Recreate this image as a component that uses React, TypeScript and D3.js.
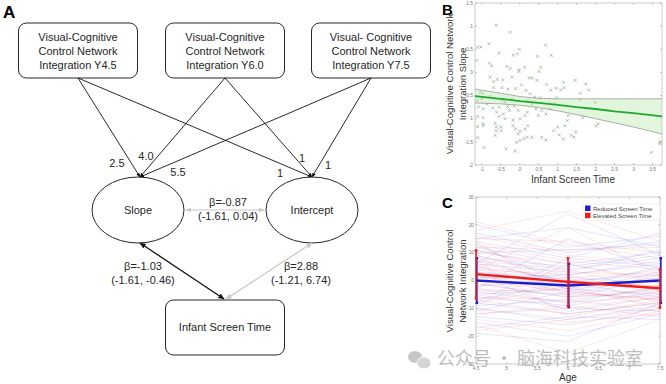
import * as d3 from 'd3';

// ---------- Panel A: path model ----------
const indicatorLabels = [
  ['Visual-Cognitive', 'Control Network', 'Integration Y4.5'],
  ['Visual-Cognitive', 'Control Network', 'Integration Y6.0'],
  ['Visual- Cognitive', 'Control Network', 'Integration Y7.5'],
];
const slopeLoadings = ['2.5', '4.0', '5.5'];
const interceptLoadings = ['1', '1', '1'];
const latentLabels = ['Slope', 'Intercept'];
const covarianceLabel = ['β=-0.87', '(-1.61, 0.04)'];
const screenSlopeLabel = ['β=-1.03', '(-1.61, -0.46)'];
const screenInterceptLabel = ['β=2.88', '(-1.21, 6.74)'];

// ---------- Panel B: scatter ----------
const screenTime = [
  -0.62, -0.25, -1.11, -1.02, -0.81, -0.01, 0.68, -0.55, -0.17, -0.06, 0.47, 0.83, -1.13, -0.8, -0.74, -0.34,
  -0.25, -0.02, -0.02, 0.13, 0.55, 0.51, -0.78, -0.59, -0.45, -0.69, -0.21, 0.05, 0.32, 0.45, 0.71, 0.82,
  0.96, 1.15, 1.46, 1.74, 1.6, 1.82, 1.17, -1.04, -0.97, -0.31, -0.11, 0.17, 0.27, 0.39, 0.54, 0.97,
  1.08, -1.09, -0.96, -0.87, -0.71, -0.54, -0.61, -0.54, -0.43, -0.39, -0.27, -0.15, -0.04, 0.01, 0.14, 0.2,
  0.32, 0.43, 0.49, 0.58, 0.69, 1.99, 1.59, -0.78, -0.47, -0.39, -0.21, -1.11, -0.97, -0.97, -0.96, -0.65,
  -0.62, -0.62, -0.5, -0.49, -1.11, -1.11, -0.94, -0.65, -0.18, -0.18, -0.11, 0.01, -0.04, 0.14, 0.21, 0.2,
  -0.08, 0.01, 0.11, 0.32, 0.58, 0.69, 0.89, 1.0, 1.04, 1.15, 1.19, 1.25, 1.28, 1.36, 1.43, 1.48,
  1.66, 2.01, 2.07, -0.36, -0.12, 3.47, 3.69, 3.7, -1.13, -1.0, -0.32, 0.2, 0.8, 0.93, 0.25, -0.47, -0.69,
];
const integrationSlope = [
  1.02, 0.87, 0.55, 0.55, 0.62, 0.5, 0.59, 0.42, 0.37, 0.4, 0.35, 0.37, 0.26, 0.2, 0.14, 0.13,
  0.08, 0.06, 0.02, 0.11, 0.11, 0.02, -0.1, -0.15, -0.16, -0.2, -0.1, -0.27, -0.12, -0.17, -0.26, -0.38,
  -0.34, -0.21, -0.17, -0.25, -0.45, -0.38, -0.33, -0.43, -0.46, -0.36, -0.35, -0.39, -0.46, -0.53, -0.55, -0.55,
  -0.38, -0.74, -0.79, -0.68, -0.77, -0.75, -0.86, -0.95, -0.9, -1.0, -0.82, -0.73, -0.82, -1.0, -0.93, -0.86,
  -0.68, -0.79, -0.93, -0.82, -0.9, -0.65, -0.59, -0.52, -0.61, -0.64, -0.57, -0.95, -0.98, -1.11, -1.15, -1.1,
  -1.18, -1.26, -1.18, -1.26, -1.17, -1.41, -1.62, -1.36, -1.03, -1.15, -1.22, -1.27, -1.33, -1.22, -1.15, -1.4,
  -1.51, -1.47, -1.43, -1.4, -1.4, -1.46, -1.26, -1.18, -1.35, -1.44, -1.15, -1.04, -0.93, -1.36, -1.4, -1.29,
  -0.98, -1.16, -1.11, -1.65, -1.7, -1.73, -1.54, -1.5, -0.61, -0.57, -0.74, -0.61, -0.79, -0.68, -0.12, -0.33, -0.33,
];
const fitX = [-1.18, -0.5, 0, 0.5, 1, 1.5, 2, 2.5, 3, 3.75];
const fitLine = [-0.51, -0.57, -0.62, -0.66, -0.7, -0.75, -0.79, -0.84, -0.88, -0.95];
const fitUpper = [-0.36, -0.45, -0.52, -0.56, -0.57, -0.57, -0.57, -0.57, -0.57, -0.57];
const fitLower = [-0.66, -0.68, -0.71, -0.76, -0.83, -0.91, -1.0, -1.09, -1.18, -1.33];
const bXTicks = [-1, -0.5, 0, 0.5, 1, 1.5, 2, 2.5, 3, 3.5];
const bYTicks = [-2, -1.5, -1, -0.5, 0, 0.5, 1, 1.5];

// ---------- Panel C: trajectories ----------
const ages = [4.5, 6, 7.5];
const reducedTrajectories = [
  [20, 12, 16], [17, 10, 14], [15, 19, 12], [14, 8, 17], [12, 6, 10], [11, 4, 8], [10, 11, 13], [9, 2, 6],
  [8, 5, 9], [7, -1, 4], [6, 3, 11], [5, 0, 2], [4, -3, 5], [3, 1, -1], [2, -4, 3], [1, 2, 7],
  [0, -2, 0], [-1, -6, 1], [-2, 0, -3], [-3, -5, 2], [-4, -8, -2], [-5, -3, -5], [-6, -9, -4], [-7, -1, -6],
  [-8, -12, -8], [-9, -7, -3], [-10, -14, -9], [-11, -4, -7], [-12, -10, -11], [-13, -16, -10], [-15, -20, -12],
  [-17, -13, -14], [-19, -22, -8], [6, 24, 9], [-3, 15, 4], [13, -2, 0], [-8, 8, 5], [2, -11, -6],
];
const elevatedTrajectories = [
  [21, 13, 8], [18, 25, 14], [16, 9, 6], [15, 14, 10], [13, 7, 4], [12, 11, 12], [11, 3, 2], [10, 6, -1],
  [9, 1, 3], [8, -2, 0], [7, 4, -4], [6, 0, -2], [5, -3, 1], [4, 2, -5], [3, -1, -3], [2, -5, -6],
  [1, 0, -2], [0, -4, -7], [-1, -6, -4], [-2, 1, -8], [-3, -8, -5], [-4, -3, -9], [-5, -10, -6], [-6, -7, -11],
  [-7, -12, -8], [-8, -2, -10], [-10, -15, -12], [-12, -9, -13], [-14, -18, -11], [-16, -26, -14], [-18, -14, -10],
  [4, 19, 2], [14, -6, -3], [-9, 6, 0], [7, -13, -7],
];
const reducedMean = [0, -1.8, 0];
const reducedLow = [-8, -9.5, -8];
const reducedHigh = [8, 6, 8];
const elevatedMean = [2.3, -0.5, -2.8];
const elevatedLow = [-6.5, -9.2, -9.7];
const elevatedHigh = [10.8, 8, 4];
const cXTicks = [4.5, 5, 5.5, 6, 6.5, 7, 7.5];
const cYTicks = [-30, -20, -10, 0, 10, 20, 30];
const legendItems = ['Reduced Screen Time', 'Elevated Screen Time'];

const FONT = '"Liberation Sans", Arial, sans-serif';
const BLUE = '#1f1fc8';
const RED = '#ee1c1c';
const INK = '#262626';

// diagram layout (not data)
const layout = {
  boxW: 119,
  boxH: 55,
  boxTop: 23,
  boxCx: [78, 225, 371],
  slope: { cx: 138, cy: 210 },
  intercept: { cx: 312, cy: 210 },
  rx: 46,
  ry: 33,
  screen: { cx: 225, top: 300 },
};

const loadingPos = {
  slope: [[117, 167], [146, 160], [178, 176]],
  intercept: [[280, 177], [302, 162], [328, 169]],
};

function PanelA() {
  const { boxW, boxH, boxTop, boxCx, slope, intercept, rx, ry, screen } = layout;
  const slopeTip: [number, number] = [slope.cx + 2, slope.cy - ry];
  const interceptTip: [number, number] = [intercept.cx, intercept.cy - ry];
  const line = d3.line();
  return (
    <g fontFamily={FONT}>
      <text x={3} y={18} fontSize={17} fontWeight="bold">A</text>
      {indicatorLabels.map((lines, i) => (
        <g key={i}>
          <rect x={boxCx[i] - boxW / 2} y={boxTop} width={boxW} height={boxH} rx={8} fill="white" stroke={INK} strokeWidth={1} />
          {lines.map((t, j) => (
            <text key={j} x={boxCx[i]} y={boxTop + 18 + j * 14} fontSize={11} textAnchor="middle" fill={INK}>{t}</text>
          ))}
          <path d={line([[boxCx[i], boxTop + boxH], slopeTip]) || ''} stroke="#111" strokeWidth={0.9} fill="none" markerEnd="url(#arrBlack)" />
          <path d={line([[boxCx[i], boxTop + boxH], interceptTip]) || ''} stroke="#111" strokeWidth={0.9} fill="none" markerEnd="url(#arrBlack)" />
        </g>
      ))}
      {slopeLoadings.map((t, i) => (
        <text key={'s' + i} x={loadingPos.slope[i][0]} y={loadingPos.slope[i][1]} fontSize={11} textAnchor="middle" fill={INK}>{t}</text>
      ))}
      {interceptLoadings.map((t, i) => (
        <text key={'i' + i} x={loadingPos.intercept[i][0]} y={loadingPos.intercept[i][1]} fontSize={11} textAnchor="middle" fill={INK}>{t}</text>
      ))}
      {[slope, intercept].map((c, i) => (
        <g key={i}>
          <ellipse cx={c.cx} cy={c.cy} rx={rx} ry={ry} fill="white" stroke={INK} strokeWidth={1} />
          <text x={c.cx} y={c.cy + 4} fontSize={11} textAnchor="middle" fill={INK}>{latentLabels[i]}</text>
        </g>
      ))}
      {/* covariance slope <-> intercept */}
      <path d={line([[slope.cx + rx + 2, slope.cy], [intercept.cx - rx - 2, intercept.cy]]) || ''} stroke="#c8c8c8" strokeWidth={1.2} markerStart="url(#arrGreyS)" markerEnd="url(#arrGrey)" />
      <text x={228} y={206} fontSize={11} textAnchor="middle" fill={INK}>{covarianceLabel[0]}</text>
      <text x={228} y={220} fontSize={11} textAnchor="middle" fill={INK}>{covarianceLabel[1]}</text>
      {/* screen time box */}
      <rect x={screen.cx - boxW / 2} y={screen.top} width={boxW} height={boxH} rx={8} fill="white" stroke={INK} strokeWidth={1} />
      <text x={screen.cx} y={screen.top + 31} fontSize={11} textAnchor="middle" fill={INK}>Infant Screen Time</text>
      <path d={line([[slope.cx + 2, slope.cy + ry], [screen.cx - 1, screen.top - 1]]) || ''} stroke="#111" strokeWidth={1.3} markerStart="url(#arrBlackS)" markerEnd="url(#arrBlack)" />
      <path d={line([[intercept.cx, intercept.cy + ry], [screen.cx + 1, screen.top - 1]]) || ''} stroke="#c8c8c8" strokeWidth={1.3} markerStart="url(#arrGreyS)" markerEnd="url(#arrGrey)" />
      <text x={143} y={270} fontSize={11} textAnchor="middle" fill={INK}>{screenSlopeLabel[0]}</text>
      <text x={143} y={284} fontSize={11} textAnchor="middle" fill={INK}>{screenSlopeLabel[1]}</text>
      <text x={301} y={270} fontSize={11} textAnchor="middle" fill={INK}>{screenInterceptLabel[0]}</text>
      <text x={301} y={284} fontSize={11} textAnchor="middle" fill={INK}>{screenInterceptLabel[1]}</text>
    </g>
  );
}

function PanelB() {
  const x = d3.scaleLinear().domain([-1.18, 3.75]).range([475, 662]);
  const y = d3.scaleLinear().domain([-2, 1.5]).range([165, 3]);
  const band = d3.area<number>().x((_, i) => x(fitX[i])).y0((_, i) => y(fitLower[i])).y1((_, i) => y(fitUpper[i]));
  const ln = d3.line<number>().x((_, i) => x(fitX[i]));
  const [x0, x1] = x.range();
  const [y0, y1] = y.range();
  return (
    <g fontFamily={FONT}>
      <text x={442} y={15} fontSize={15} fontWeight="bold">B</text>
      <rect x={x0} y={y1} width={x1 - x0} height={y0 - y1} fill="white" stroke="#bdbdbd" strokeWidth={0.8} />
      {bXTicks.map(t => (
        <g key={t}>
          <line x1={x(t)} x2={x(t)} y1={y0} y2={y0 - 2} stroke="#999" strokeWidth={0.5} />
          <line x1={x(t)} x2={x(t)} y1={y1} y2={y1 + 2} stroke="#999" strokeWidth={0.5} />
          <text x={x(t)} y={y0 + 6} fontSize={4.8} textAnchor="middle" fill="#777">{t}</text>
        </g>
      ))}
      {bYTicks.map(t => (
        <g key={t}>
          <line x1={x0} x2={x0 + 2} y1={y(t)} y2={y(t)} stroke="#999" strokeWidth={0.5} />
          <line x1={x1} x2={x1 - 2} y1={y(t)} y2={y(t)} stroke="#999" strokeWidth={0.5} />
          <text x={x0 - 2} y={y(t) + 1.7} fontSize={4.8} textAnchor="end" fill="#777">{t}</text>
        </g>
      ))}
      {screenTime.map((v, i) => {
        const cx = x(v);
        const cy = y(integrationSlope[i]);
        const s = 1.5;
        return (
          <path key={i} d={`M${cx - s},${cy - s}L${cx + s},${cy + s}M${cx - s},${cy + s}L${cx + s},${cy - s}`} stroke="#7f9f7f" strokeWidth={0.6} fill="none" />
        );
      })}
      <path d={band(fitX) || ''} fill="#bfe8b4" fillOpacity={0.45} stroke="none" />
      <path d={ln.y((_, i) => y(fitUpper[i]))(fitX) || ''} stroke="#9a9a9a" strokeWidth={0.8} fill="none" />
      <path d={ln.y((_, i) => y(fitLower[i]))(fitX) || ''} stroke="#9a9a9a" strokeWidth={0.8} fill="none" />
      <path d={ln.y((_, i) => y(fitLine[i]))(fitX) || ''} stroke="#1fa82c" strokeWidth={1.8} fill="none" />
      <text x={573} y={183} fontSize={10} textAnchor="middle" fill="#333">Infant Screen Time</text>
      <text transform="translate(453,84) rotate(-90)" fontSize={9.6} textAnchor="middle" fill="#333">Visual-Cognitive Control Network</text>
      <text transform="translate(466,84) rotate(-90)" fontSize={9.6} textAnchor="middle" fill="#333">Integration Slope</text>
    </g>
  );
}

function PanelC() {
  const x = d3.scaleLinear().domain([4.5, 7.5]).range([476, 660]);
  const y = d3.scaleLinear().domain([-30, 30]).range([364, 197]);
  const ln = d3.line<number>().x((_, i) => x(ages[i])).y(d => y(d));
  const [x0, x1] = x.range();
  const [y0, y1] = y.range();
  const errorBars = (low: number[], high: number[], color: string, off: number) =>
    ages.map((a, i) => (
      <g key={color + i}>
        <line x1={x(a) + off} x2={x(a) + off} y1={y(low[i])} y2={y(high[i])} stroke={color} strokeWidth={1.6} />
        <rect x={x(a) + off - 1.3} y={y(low[i]) - 1.3} width={2.6} height={2.6} fill={color} />
        <rect x={x(a) + off - 1.3} y={y(high[i]) - 1.3} width={2.6} height={2.6} fill={color} />
      </g>
    ));
  return (
    <g fontFamily={FONT}>
      <text x={442} y={208} fontSize={15} fontWeight="bold">C</text>
      <rect x={x0} y={y1} width={x1 - x0} height={y0 - y1} fill="white" stroke="#bdbdbd" strokeWidth={0.8} />
      {cXTicks.map(t => (
        <g key={t}>
          <line x1={x(t)} x2={x(t)} y1={y0} y2={y0 - 2} stroke="#999" strokeWidth={0.5} />
          <line x1={x(t)} x2={x(t)} y1={y1} y2={y1 + 2} stroke="#999" strokeWidth={0.5} />
          <text x={x(t)} y={y0 + 6} fontSize={4.8} textAnchor="middle" fill="#777">{t}</text>
        </g>
      ))}
      {cYTicks.map(t => (
        <g key={t}>
          <line x1={x0} x2={x0 + 2} y1={y(t)} y2={y(t)} stroke="#999" strokeWidth={0.5} />
          <line x1={x1} x2={x1 - 2} y1={y(t)} y2={y(t)} stroke="#999" strokeWidth={0.5} />
          <text x={x0 - 2} y={y(t) + 1.7} fontSize={4.8} textAnchor="end" fill="#777">{t}</text>
        </g>
      ))}
      {reducedTrajectories.map((d, i) => (
        <path key={'r' + i} d={ln(d) || ''} stroke="#3a3aff" strokeOpacity={0.16} strokeWidth={0.8} fill="none" />
      ))}
      {elevatedTrajectories.map((d, i) => (
        <path key={'e' + i} d={ln(d) || ''} stroke="#ff3a3a" strokeOpacity={0.16} strokeWidth={0.8} fill="none" />
      ))}
      <path d={ln(reducedMean) || ''} stroke={BLUE} strokeWidth={2.4} fill="none" />
      {errorBars(reducedLow, reducedHigh, BLUE, 0.8)}
      <path d={ln(elevatedMean) || ''} stroke={RED} strokeWidth={2.4} fill="none" />
      {errorBars(elevatedLow, elevatedHigh, RED, 0)}
      <rect x={583} y={204} width={77} height={16} fill="white" stroke="#ddd" strokeWidth={0.5} />
      {legendItems.map((t, i) => (
        <g key={t}>
          <rect x={585} y={205.5 + i * 7.2} width={5.5} height={5.5} fill={i === 0 ? BLUE : RED} />
          <text x={593} y={210.5 + i * 7.2} fontSize={6} fill="#444">{t}</text>
        </g>
      ))}
      <text x={568} y={381} fontSize={10} textAnchor="middle" fill="#333">Age</text>
      <text transform="translate(453,281) rotate(-90)" fontSize={9.6} textAnchor="middle" fill="#333">Visual-Cognitive Control</text>
      <text transform="translate(466,281) rotate(-90)" fontSize={9.6} textAnchor="middle" fill="#333">Network Integration</text>
    </g>
  );
}

function Watermark() {
  return (
    <g opacity={0.75}>
      <ellipse cx={415} cy={357} rx={7} ry={6} fill="#b5b5b5" />
      <ellipse cx={424} cy={363} rx={7} ry={6} fill="#c8c8c8" stroke="white" strokeWidth={1} />
      <text x={437} y={365} fontSize={18} fill="#a8a8a8" fontFamily='"Noto Sans CJK SC", sans-serif'>公众号 · 脑海科技实验室</text>
    </g>
  );
}

export default function App() {
  return (
    <svg width={666} height={384} style={{ position: 'absolute', left: 0, top: 0, background: 'white' }}>
      <defs>
        <marker id="arrBlack" viewBox="0 0 10 10" refX="9" refY="5" markerWidth="5" markerHeight="5" orient="auto">
          <path d="M0,1L10,5L0,9z" fill="#111" />
        </marker>
        <marker id="arrBlackS" viewBox="0 0 10 10" refX="1" refY="5" markerWidth="5" markerHeight="5" orient="auto">
          <path d="M10,1L0,5L10,9z" fill="#111" />
        </marker>
        <marker id="arrGrey" viewBox="0 0 10 10" refX="9" refY="5" markerWidth="5" markerHeight="5" orient="auto">
          <path d="M0,1L10,5L0,9z" fill="#c8c8c8" />
        </marker>
        <marker id="arrGreyS" viewBox="0 0 10 10" refX="1" refY="5" markerWidth="5" markerHeight="5" orient="auto">
          <path d="M10,1L0,5L10,9z" fill="#c8c8c8" />
        </marker>
      </defs>
      <PanelA />
      <PanelB />
      <PanelC />
      <Watermark />
    </svg>
  );
}
